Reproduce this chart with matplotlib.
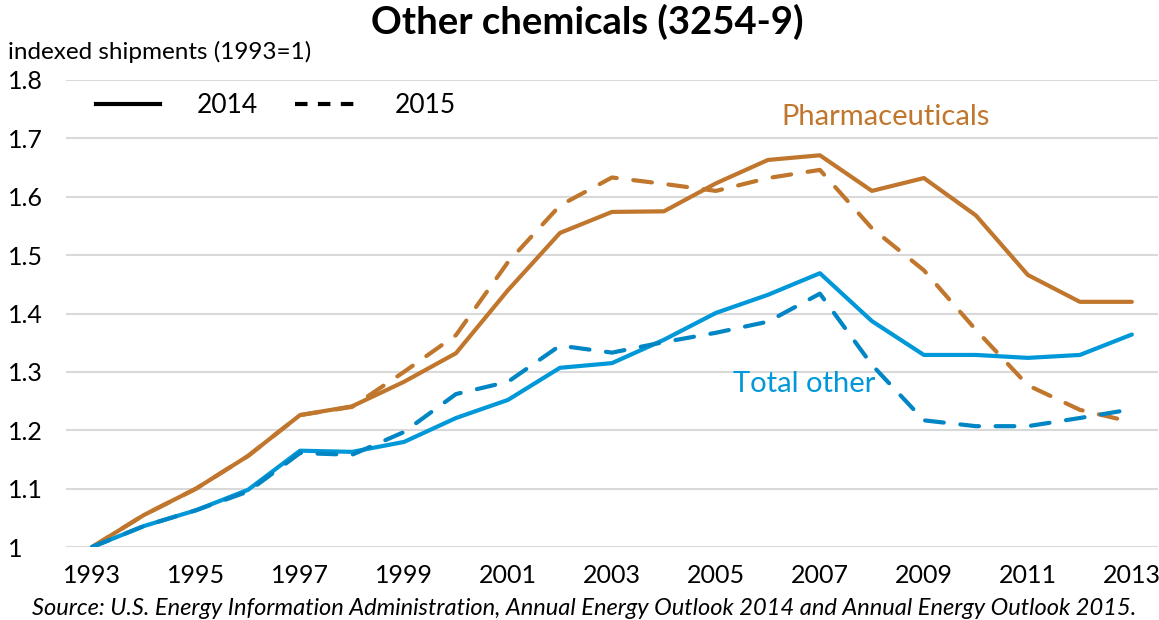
import matplotlib
matplotlib.use("Agg")
import matplotlib.pyplot as plt
from matplotlib.lines import Line2D

plt.rcParams['font.family'] = ['Lato', 'DejaVu Sans']

years = list(range(1993, 2014))

# indexed shipments (1993=1)
pharma_2014 = [1.0, 1.055, 1.10, 1.156, 1.226, 1.241, 1.283, 1.332, 1.44, 1.538, 1.574,
               1.575, 1.623, 1.663, 1.671, 1.61, 1.632, 1.568, 1.466, 1.42, 1.42]
pharma_2015 = [1.0, 1.055, 1.10, 1.156, 1.226, 1.240, 1.30, 1.363, 1.488, 1.585, 1.633,
               1.622, 1.61, 1.632, 1.646, 1.546, 1.474, 1.372, 1.277, 1.235, 1.214]
other_2014 = [1.0, 1.036, 1.063, 1.098, 1.165, 1.163, 1.18, 1.221, 1.252, 1.307, 1.315,
              1.355, 1.401, 1.432, 1.469, 1.387, 1.329, 1.329, 1.324, 1.329, 1.364]
other_2015 = [1.0, 1.036, 1.063, 1.095, 1.161, 1.158, 1.197, 1.262, 1.283, 1.345, 1.333,
              1.351, 1.367, 1.386, 1.434, 1.312, 1.217, 1.207, 1.207, 1.221, 1.236]

orange = '#C0762C'
blue = '#0098D8'
blue_dark = '#0086C4'
dash = (0, (4.5, 4))

fig = plt.figure(figsize=(11.59, 6.2), dpi=100)
ax = fig.add_axes([0.057, 0.1177, 0.942, 0.7533])

ax.plot(years, pharma_2014, color=orange, lw=3, solid_capstyle='round', solid_joinstyle='round')
ax.plot(years, pharma_2015, color=orange, lw=3, linestyle=dash, dash_capstyle='round')
ax.plot(years, other_2014, color=blue, lw=3, solid_capstyle='round', solid_joinstyle='round')
ax.plot(years, other_2015, color=blue_dark, lw=3, linestyle=dash, dash_capstyle='round')

ax.set_xlim(1992.5, 2013.5)
ax.set_ylim(1.0, 1.8)
ax.set_xticks(years[::2])
ax.set_xticklabels([str(y) for y in years[::2]], fontsize=18)
yt = [1.0, 1.1, 1.2, 1.3, 1.4, 1.5, 1.6, 1.7, 1.8]
ax.set_yticks(yt)
ax.set_yticklabels(['1'] + ['%.1f' % v for v in yt[1:]], fontsize=18, ha='left')
ax.tick_params(axis='y', length=0, pad=42)
ax.tick_params(axis='x', length=0, pad=12)
ax.grid(axis='y', color='#D9D9D9', lw=1.5)
ax.set_axisbelow(True)
for s in ax.spines.values():
    s.set_visible(False)

ax.text(2008.27, 1.737, 'Pharmaceuticals', color=orange, fontsize=21, ha='center', va='center')
ax.text(2006.7, 1.28, 'Total other', color=blue, fontsize=21, ha='center', va='center')

handles = [Line2D([], [], color='black', lw=3),
           Line2D([], [], color='black', lw=3, linestyle=(0, (3, 2.5)))]
ax.legend(handles, ['2014', '2015'], ncol=2, frameon=False, fontsize=19,
          loc='center left', bbox_to_anchor=(0.018, 0.945), handlelength=2.4,
          handletextpad=1.4, columnspacing=1.4, borderaxespad=0)

fig.text(0.507, 0.965, 'Other chemicals (3254-9)', fontsize=27.5, fontweight='bold',
         ha='center', va='center')
fig.text(0.007, 0.916, 'indexed shipments (1993=1)', fontsize=17.5, ha='left', va='center')
fig.text(0.028, 0.019, 'Source: U.S. Energy Information Administration, Annual Energy Outlook 2014 and Annual Energy Outlook 2015.',
         fontsize=17, style='italic', ha='left', va='center')

fig.savefig('out.png', dpi=100)
